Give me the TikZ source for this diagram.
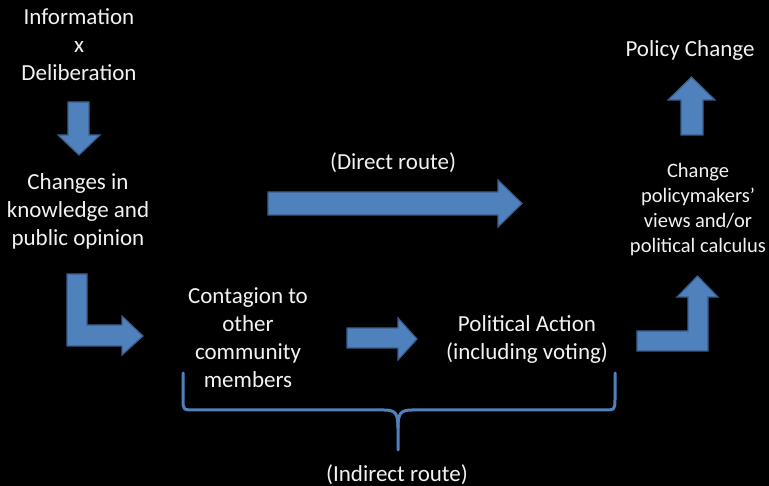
\documentclass[tikz,border=0pt]{standalone}
\usepackage{fontspec}
\setmainfont{Carlito}
\definecolor{arrowfill}{HTML}{4F81BD}
\definecolor{arrowline}{HTML}{385D8A}
\definecolor{txt}{HTML}{F2F2F2}
\tikzset{
  blockarrow/.style={fill=arrowfill, draw=arrowline, line width=1.2pt, line join=miter},
  bigtext/.style={text=txt, align=center, font=\fontsize{23}{28}\selectfont, inner sep=0pt},
  smalltext/.style={text=txt, align=center, font=\fontsize{20.5}{25}\selectfont, inner sep=0pt},
  bracestyle/.style={draw=arrowfill, line width=3pt, line cap=round, line join=round}
}
\begin{document}
\begin{tikzpicture}[x=1pt,y=-1pt]
\fill[black] (0,0) rectangle (769,486);
\useasboundingbox (0,0) rectangle (769,486);

% texts
\node[bigtext] (info) at (79,44.5) {Information\\x\\Deliberation};
\node[bigtext] (changes) at (78,211) {Changes in\\knowledge and\\public opinion};
\node[bigtext] (direct) at (393,163) {(Direct route)};
\node[bigtext] (contagion) at (248,338) {Contagion to\\other\\community\\members};
\node[bigtext] (political) at (527,339) {Political Action\\(including voting)};
\node[bigtext] (indirect) at (397,475) {(Indirect route)};
\node[bigtext] (policy) at (690,50) {Policy Change};
\node[smalltext] (views) at (698,210) {Change\\policymakers’\\views and/or\\political calculus};

% block arrows
\draw[blockarrow] (68,102) -- (89,102) -- (89,135) -- (100,135) -- (79,155) -- (58,135) -- (68,135) -- cycle;
\draw[blockarrow] (268,192) -- (498,192) -- (498,180) -- (522,203.5) -- (498,227) -- (498,215) -- (268,215) -- cycle;
\draw[blockarrow] (67,274) -- (87,274) -- (87,325) -- (122,325) -- (122,316) -- (143,336) -- (122,355) -- (122,346) -- (67,346) -- cycle;
\draw[blockarrow] (347,328) -- (398,328) -- (398,318) -- (417,339) -- (398,360) -- (398,348) -- (347,348) -- cycle;
\draw[blockarrow] (637,331) -- (688,331) -- (688,297) -- (677,297) -- (697.5,276) -- (718,297) -- (708,297) -- (708,351) -- (637,351) -- cycle;
\draw[blockarrow] (681,135) -- (681,100) -- (668,100) -- (691.5,77) -- (715,100) -- (703,100) -- (703,135) -- cycle;

% brace
\coordinate (bl) at (183,373);
\coordinate (br) at (615,373);
\coordinate (bt) at (398,450);
\draw[bracestyle] (bl) -- (183,399) .. controls (183,410) .. (195,410) -- (384,410)
  .. controls (396,410) and (398,414) .. (398,428) -- (bt);
\draw[bracestyle] (br) -- (615,399) .. controls (615,410) .. (603,410) -- (412,410)
  .. controls (400,410) and (398,414) .. (398,428);
\end{tikzpicture}
\end{document}
